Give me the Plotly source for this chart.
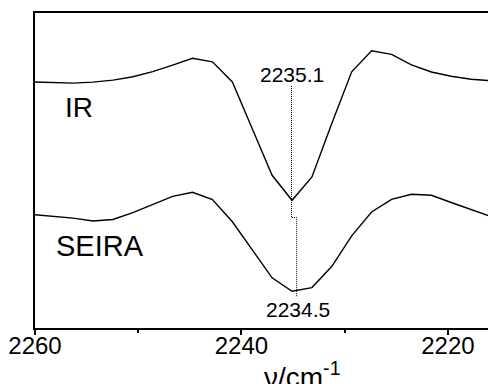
import plotly.graph_objects as go

# wavenumbers (cm^-1) of the sampled points
wavenumber = [2260.16, 2258.24, 2256.31, 2254.38, 2252.45, 2250.52, 2248.60, 2246.67,
              2244.74, 2242.81, 2240.88, 2238.96, 2237.03, 2235.10, 2233.17, 2231.24,
              2229.32, 2227.39, 2225.46, 2223.53, 2221.60, 2219.68, 2217.75, 2215.82,
              2213.89]

# IR spectrum (arbitrary units, offset)
ir = [2.46, 2.452, 2.449, 2.459, 2.479, 2.512, 2.564, 2.629, 2.697, 2.662, 2.46,
      1.994, 1.527, 1.277, 1.51, 2.047, 2.562, 2.772, 2.737, 2.632, 2.56, 2.517,
      2.487, 2.472, 2.467]

# SEIRA spectrum (arbitrary units, offset)
seira = [1.134, 1.119, 1.099, 1.07, 1.085, 1.154, 1.232, 1.317, 1.357, 1.285, 1.062,
         0.777, 0.502, 0.367, 0.404, 0.617, 0.922, 1.16, 1.287, 1.337, 1.327, 1.255,
         1.184, 1.112, 1.042]

# peak marker (dotted guide) positions
marker_x = [2235.15, 2235.15, 2234.65, 2234.65]
marker_y = [2.42, 1.105, 1.105, 0.31]

x_range = [2260, 2215.34]
y_range = [0, 3.15]
x_ticks = [2260, 2240, 2220]

FONT = "Liberation Sans, Arial, sans-serif"

fig = go.Figure()
fig.add_trace(go.Scatter(x=wavenumber, y=ir, mode="lines",
                         line=dict(color="black", width=1.4), showlegend=False))
fig.add_trace(go.Scatter(x=wavenumber, y=seira, mode="lines",
                         line=dict(color="black", width=1.4), showlegend=False))
fig.add_trace(go.Scatter(x=marker_x, y=marker_y, mode="lines",
                         line=dict(color="black", width=1, dash="1px,1px"),
                         showlegend=False))

fig.add_annotation(x=2235.1, y=2.54, xref="x", yref="y", text="2235.1",
                   showarrow=False, font=dict(family=FONT, size=21, color="black"))
fig.add_annotation(x=2234.5, y=0.185, xref="x", yref="y", text="2234.5",
                   showarrow=False, font=dict(family=FONT, size=21, color="black"))
fig.add_annotation(x=2255.7, y=2.205, xref="x", yref="y", text="IR",
                   showarrow=False, font=dict(family=FONT, size=28, color="black"))
fig.add_annotation(x=2253.75, y=0.82, xref="x", yref="y", text="SEIRA",
                   showarrow=False, font=dict(family=FONT, size=29, color="black"))
fig.add_annotation(x=2234.1, y=-0.148, xref="x", yref="paper", yanchor="middle",
                   text="ν/cm<sup>-1</sup>", showarrow=False,
                   font=dict(family=FONT, size=28, color="black"))

fig.update_xaxes(range=x_range, tickvals=x_ticks, ticktext=[str(t) for t in x_ticks],
                 ticks="outside", ticklen=5, tickwidth=1.5, tickcolor="black",
                 ticklabelstandoff=-10, ticklabeloverflow="allow",
                 minor=dict(ticks="outside", ticklen=3, tickwidth=1.5, dtick=10,
                            tick0=2220, tickcolor="black"),
                 showline=True, linewidth=2, linecolor="black", mirror=True,
                 showgrid=False, zeroline=False,
                 tickfont=dict(family=FONT, size=24, color="black"))
fig.update_yaxes(range=y_range, showticklabels=False, ticks="",
                 showline=True, linewidth=2, linecolor="black", mirror=False,
                 showgrid=False, zeroline=False)

# page body has an 8px default margin, so the figure is sized to fit the window
fig.update_layout(width=488, height=376,
                  margin=dict(l=25, r=0, t=5, b=56, pad=0),
                  plot_bgcolor="white", paper_bgcolor="white",
                  font=dict(family=FONT, color="black"))

fig.write_html("out.html")
